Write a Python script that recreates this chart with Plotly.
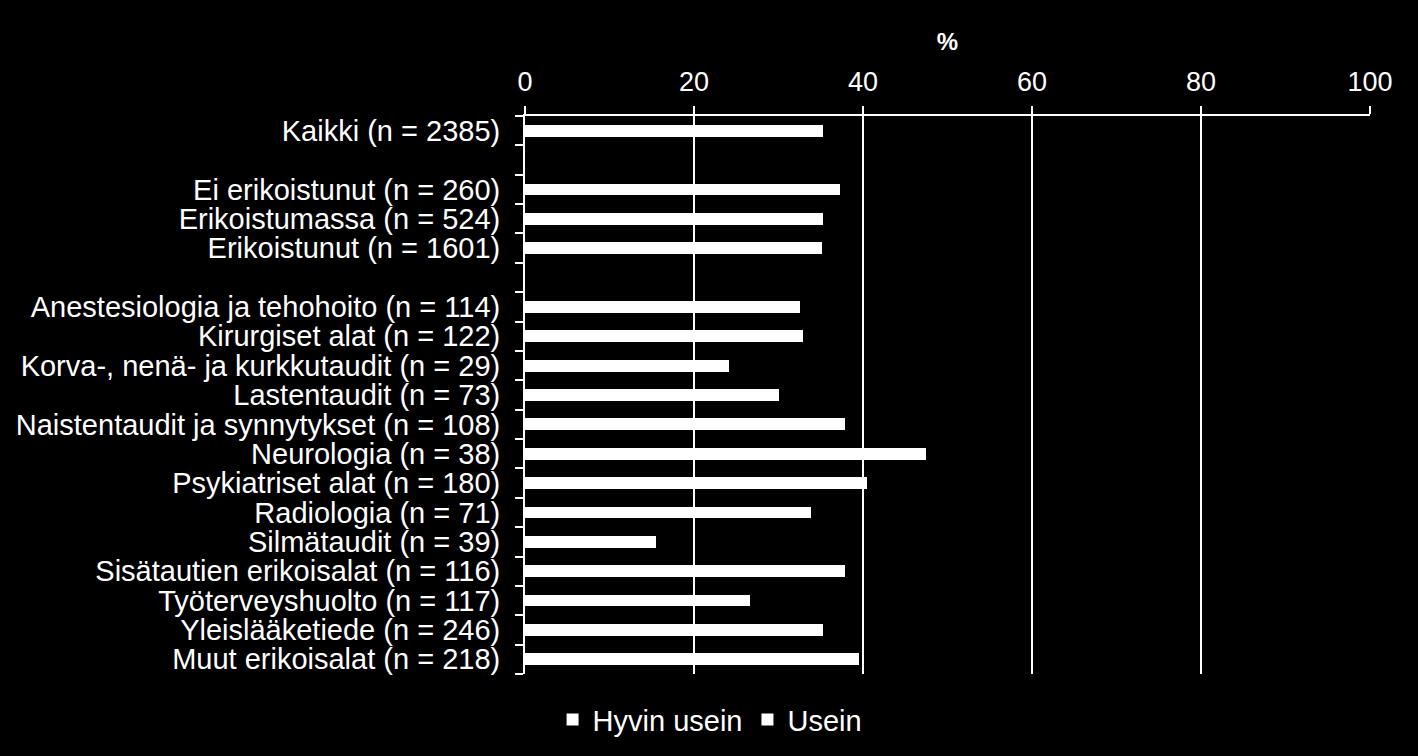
import plotly.graph_objects as go

categories = [
    "Kaikki (n = 2385)",
    " ",
    "Ei erikoistunut (n = 260)",
    "Erikoistumassa (n = 524)",
    "Erikoistunut (n = 1601)",
    "  ",
    "Anestesiologia ja tehohoito (n = 114)",
    "Kirurgiset alat (n = 122)",
    "Korva-, nenä- ja kurkkutaudit (n = 29)",
    "Lastentaudit (n = 73)",
    "Naistentaudit ja synnytykset (n = 108)",
    "Neurologia (n = 38)",
    "Psykiatriset alat (n = 180)",
    "Radiologia (n = 71)",
    "Silmätaudit (n = 39)",
    "Sisätautien erikoisalat (n = 116)",
    "Työterveyshuolto (n = 117)",
    "Yleislääketiede (n = 246)",
    "Muut erikoisalat (n = 218)",
]

# Bar lengths (%) (both series drawn in white, no visible split)
bar_pct = [35.3, None, 37.3, 35.3, 35.1, None, 32.5, 32.9, 24.2, 30.1,
           37.9, 47.4, 40.5, 33.8, 15.5, 37.9, 26.6, 35.3, 39.5]

series_names = ["Hyvin usein", "Usein"]
x_ticks = [0, 20, 40, 60, 80, 100]

FONT = "Liberation Sans, Arial, sans-serif"

fig = go.Figure()
fig.add_trace(go.Bar(
    y=categories, x=bar_pct, orientation="h", name=series_names[0],
    marker=dict(color="white", line=dict(width=0)),
))
fig.add_trace(go.Bar(
    y=[categories[0]], x=[None], orientation="h", name=series_names[1],
    marker=dict(color="white", line=dict(width=0)),
))

fig.update_layout(
    width=1418, height=756,
    paper_bgcolor="black", plot_bgcolor="black",
    margin=dict(l=525, r=48, t=116, b=81),
    barmode="stack", bargap=0.6,
    font=dict(family=FONT, color="white", size=29),
    showlegend=True,
    legend=dict(
        orientation="h", traceorder="normal",
        x=0.219, xanchor="center", y=-0.08, yanchor="middle",
        font=dict(size=29, color="white"), bgcolor="rgba(0,0,0,0)",
        itemwidth=30, tracegroupgap=0,
    ),
    xaxis=dict(
        side="top", range=[0, 100], tickvals=x_ticks,
        showgrid=True, gridcolor="white", gridwidth=1.5,
        showline=True, linecolor="white", linewidth=2,
        ticks="outside", ticklen=8, tickcolor="white", tickwidth=2,
        tickfont=dict(size=27, color="white"),
        ticklabelstandoff=4,
        zeroline=False,
        title=dict(text="<b>%</b>", font=dict(size=24, color="white"), standoff=10),
    ),
    yaxis=dict(
        autorange="reversed", type="category",
        tickmode="array", tickvals=categories, ticktext=categories,
        showline=True, linecolor="white", linewidth=2,
        ticks="outside", ticklen=8, tickcolor="white", tickwidth=2,
        tickson="boundaries", showgrid=False,
        tickfont=dict(size=29, color="white"),
        ticklabelstandoff=17,
    ),
)

fig.write_html("out.html")
